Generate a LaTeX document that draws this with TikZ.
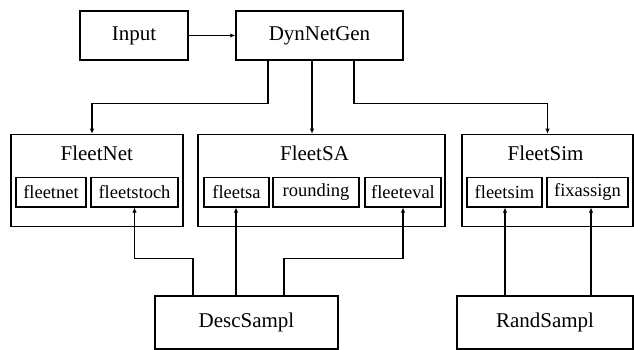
\documentclass[tikz,border=0pt]{standalone}
\usepackage{fontspec}
\setmainfont{Liberation Serif}
\usetikzlibrary{arrows.meta}
\begin{document}
\begin{tikzpicture}[x=1pt,y=-1pt,
  box/.style={draw,line width=1.5pt,inner sep=0pt,minimum height=49pt,font=\fontsize{21}{24}\selectfont},
  grp/.style={draw,line width=1.5pt,inner sep=0pt,minimum height=92pt},
  sub/.style={draw,line width=1.5pt,inner sep=0pt,minimum height=29.5pt,font=\fontsize{18.5}{22}\selectfont},
  ttl/.style={inner sep=0pt,font=\fontsize{21}{24}\selectfont},
  conn/.style={line width=1.2pt,-{Latex[length=5pt,width=4.5pt]}},
  plain/.style={line width=1.2pt}]
\useasboundingbox (0,0) rectangle (634,350);
% top row
\node[box,minimum width=108pt] (inp) at (134,35.5) {Input};
\node[box,minimum width=167pt] (dyn) at (319.5,35.5) {DynNetGen};
% groups
\node[grp,minimum width=172pt] (fnet) at (96.75,180.5) {};
\node[grp,minimum width=247pt] (fsa) at (321.5,180.5) {};
\node[grp,minimum width=171pt] (fsim) at (547.5,180.5) {};
\node[ttl] (tnet) at (96.75,153) {FleetNet};
\node[ttl] (tsa) at (314.5,153) {FleetSA};
\node[ttl] (tsim) at (545.5,153) {FleetSim};
% sub modules
\node[sub,minimum width=70pt] (fleetnet) at (51,192) {fleetnet};
\node[sub,minimum width=87pt] (fstoch) at (134.5,192) {fleetstoch};
\node[sub,minimum width=65pt] (fsain) at (236.5,192) {fleetsa};
\node[sub,minimum width=86pt] (round) at (316,192) {rounding};
\node[sub,minimum width=76pt] (feval) at (403,192) {fleeteval};
\node[sub,minimum width=75pt] (fsimin) at (504.5,192) {fleetsim};
\node[sub,minimum width=81pt] (fix) at (587.5,192) {fixassign};
% bottom row
\node[box,minimum width=183pt,minimum height=53pt] (desc) at (246.5,322.5) {DescSampl};
\node[box,minimum width=176pt,minimum height=53pt] (rand) at (545,322.5) {RandSampl};
% connectors top
\draw[conn] (inp.east) -- (dyn.west);
\coordinate (d1) at ([xshift=-51.5pt]dyn.south);
\coordinate (d2) at ([xshift=-7.5pt]dyn.south);
\coordinate (d3) at ([xshift=34.5pt]dyn.south);
\coordinate (n1) at ([xshift=-4.75pt]fnet.north);
\draw[conn] (d1) -- ++(0,43) -| (n1);
\draw[conn] (d2) -- (d2 |- fsa.north);
\draw[conn] (d3) -- ++(0,43) -| (fsim.north);
% connectors bottom
\coordinate (b1) at ([xshift=-53.5pt]desc.north);
\coordinate (b2) at ([xshift=-10.5pt]desc.north);
\coordinate (b3) at ([xshift=37.5pt]desc.north);
\coordinate (r1) at ([xshift=-40pt]rand.north);
\coordinate (r2) at ([xshift=46pt]rand.north);
\draw[conn] (b1) -- ++(0,-37) -| (fstoch.south);
\draw[conn] (b2) -- (b2 |- fsain.south);
\draw[conn] (b3) -- ++(0,-37) -| (feval.south);
\draw[conn] (r1) -- (r1 |- fsimin.south);
\draw[conn] (r2) -- (r2 |- fix.south);
\end{tikzpicture}
\end{document}
